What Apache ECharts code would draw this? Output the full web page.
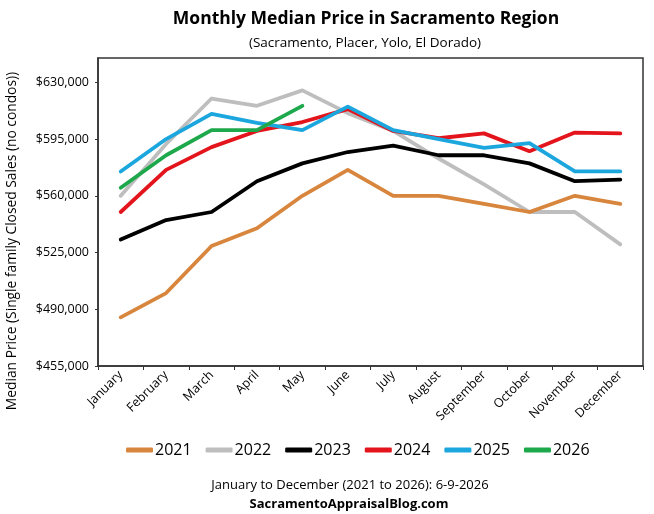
<!DOCTYPE html>
<html>
<head>
<meta charset="utf-8">
<script src="https://cdn.jsdelivr.net/npm/echarts@6/dist/echarts.min.js"></script>
<style>html,body{margin:0;padding:0;background:#fff}#c{width:654px;height:514px}</style>
</head>
<body>
<div id="c"></div>
<script>
var months = ['January','February','March','April','May','June','July','August','September','October','November','December'];
var years = ['2021','2022','2023','2024','2025','2026'];
var colors = ['#D8863D','#BEBEBE','#000000','#E3141B','#1CA6DE','#1EA84C'];
var v2021 = [485000,500000,529000,540000,560000,576000,560000,560000,555000,550000,560000,555000];
var v2022 = [560000,592000,620000,615500,625000,611000,600000,583000,567000,550000,550000,530000];
var v2023 = [533000,545000,550000,569000,580000,587000,591000,585000,585000,580000,569000,570000];
var v2024 = [550000,576000,590000,600000,605500,613500,600000,595500,598500,587500,599000,598500];
var v2025 = [575000,595000,610500,605000,600500,615000,600500,595000,589500,592500,575000,575000];
var v2026 = [565000,585000,600500,600500,615500];
var yTicks = [455000,490000,525000,560000,595000,630000];
var yMin = 455000, yMax = 645000, yStep = 35000;

var seriesData = [v2021,v2022,v2023,v2024,v2025,v2026];
var font = 'Open Sans';
var chart = echarts.init(document.getElementById('c'), null, {renderer:'canvas'});
chart.setOption({
  animation:false,
  textStyle:{fontFamily:font},
  title:[
    {text:'Monthly Median Price in Sacramento Region', left:361, top:5, textAlign:'center',
     textStyle:{fontFamily:font, fontSize:17.5, fontWeight:'bold', color:'#000'}},
    {text:'(Sacramento, Placer, Yolo, El Dorado)', left:360, top:31, textAlign:'center',
     textStyle:{fontFamily:font, fontSize:13.5, fontWeight:'normal', color:'#000'}},
    {text:'January to December (2021 to 2026): 6-9-2026', left:345, top:474, textAlign:'center',
     textStyle:{fontFamily:font, fontSize:13, fontWeight:'normal', color:'#000'}},
    {text:'SacramentoAppraisalBlog.com', left:344, top:493, textAlign:'center',
     textStyle:{fontFamily:font, fontSize:13, fontWeight:'bold', color:'#000'}}
  ],
  graphic:[
    {type:'text', x:12, y:241, rotation:Math.PI/2, silent:true,
     style:{text:'Median Price (Single family Closed Sales (no condos))', fill:'#000',
       font:'13.8px "Open Sans"', textAlign:'center', textVerticalAlign:'middle'}}
  ],
  legend:{
    data:years, left:121, top:437, itemWidth:27, itemHeight:5, itemGap:14, icon:'roundRect',
    textStyle:{fontFamily:font, fontSize:16, color:'#000', padding:[0,0,0,-3]}
  },
  grid:{left:98, right:11, top:58, bottom:148, show:true, borderColor:'#333', borderWidth:1.5, backgroundColor:'transparent'},
  xAxis:{
    type:'category', data:months, boundaryGap:true,
    axisLine:{lineStyle:{color:'#333', width:1.5}},
    axisTick:{show:true, length:4, lineStyle:{color:'#333'}},
    axisLabel:{rotate:45, fontSize:12.5, color:'#000', margin:7, interval:0, fontFamily:font}
  },
  yAxis:{
    type:'value', min:yMin, max:yMax, interval:yStep,
    axisLine:{show:true, lineStyle:{color:'#333', width:1.5}},
    axisTick:{show:true, length:3, lineStyle:{color:'#333'}},
    splitLine:{show:false},
    axisLabel:{fontSize:12.5, color:'#000', margin:9, fontFamily:font, showMaxLabel:false,
      formatter:function(v){ return yTicks.indexOf(v) >= 0 ? '$' + v.toLocaleString('en-US') : ''; }}
  },
  series: years.map(function(y,i){
    return {name:y, type:'line', data:seriesData[i], showSymbol:false, symbol:'none',
      lineStyle:{color:colors[i], width:3.8, cap:'round', join:'round'}, itemStyle:{color:colors[i]},
      z: i===1 ? 1 : 2+i};
  })
});
</script>
</body>
</html>
